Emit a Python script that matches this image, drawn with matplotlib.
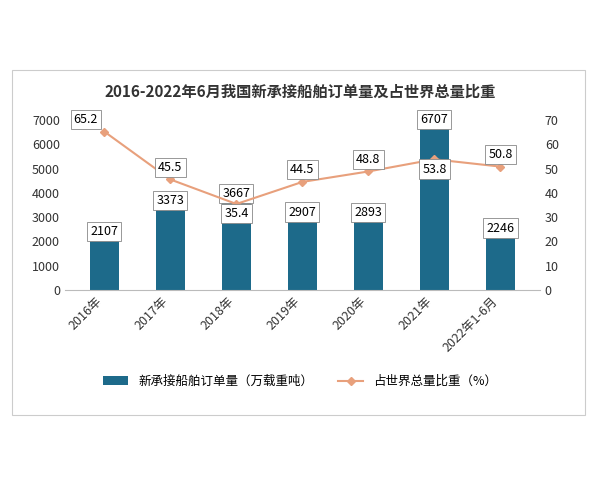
import matplotlib.pyplot as plt
import numpy as np

plt.rcParams['font.family'] = ['Noto Sans CJK SC', 'DejaVu Sans']

years = ['2016年', '2017年', '2018年', '2019年', '2020年', '2021年', '2022年1-6月']
orders = [2107, 3373, 3667, 2907, 2893, 6707, 2246]
share = [65.2, 45.5, 35.4, 44.5, 48.8, 53.8, 50.8]

fig = plt.figure(figsize=(6, 4.8), dpi=100)
fig.patches.append(plt.Rectangle((0.02, 0.135), 0.955, 0.72, transform=fig.transFigure,
                                 fill=False, edgecolor='#cccccc', linewidth=0.8))
ax = fig.add_axes([0.108, 0.396, 0.792, 0.354])
ax2 = ax.twinx()

x = np.arange(len(years))
bar_color = '#1d6a8a'
line_color = '#e8a07c'
bars = ax.bar(x, orders, width=0.45, color=bar_color)
ax.set_ylim(0, 7000)
ax.set_yticks(range(0, 7001, 1000))
ax2.set_ylim(0, 70)
ax2.set_yticks(range(0, 71, 10))
ax.set_xlim(-0.6, len(years) - 0.4)
ax.set_xticks(x)
ax.set_xticklabels(years, rotation=45, ha='right', fontsize=9, color='#333333')
for a in (ax, ax2):
    a.tick_params(labelsize=9, colors='#333333', length=0)
    for s in a.spines.values():
        s.set_visible(False)
ax.spines['bottom'].set_visible(True)
ax.spines['bottom'].set_color('#bbbbbb')

line, = ax2.plot(x, share, color=line_color, marker='D', markersize=4, linewidth=1.5)

box = dict(boxstyle='square,pad=0.25', facecolor='white', edgecolor='#888888', linewidth=0.6)
for xi, v in zip(x, orders):
    ax.text(xi, v + 300, str(v), ha='center', va='center', fontsize=9, bbox=box)
offsets = [5, 5, -4, 5, 5, -4, 5]
for xi, v, o in zip(x, share, offsets):
    ax2.text(xi - 0.28 if xi == 0 else xi, v + o, f'{v}', ha='center', va='center', fontsize=9, bbox=box)

fig.text(0.5, 0.808, '2016-2022年6月我国新承接船舶订单量及占世界总量比重', ha='center', va='center',
         fontsize=11, fontweight='bold', color='#333333')
fig.legend([bars, line], ['新承接船舶订单量（万载重吨）', '占世界总量比重（%）'], loc='center',
           bbox_to_anchor=(0.5, 0.205), ncol=2, frameon=False, fontsize=9)

fig.savefig('out.png', dpi=100)
